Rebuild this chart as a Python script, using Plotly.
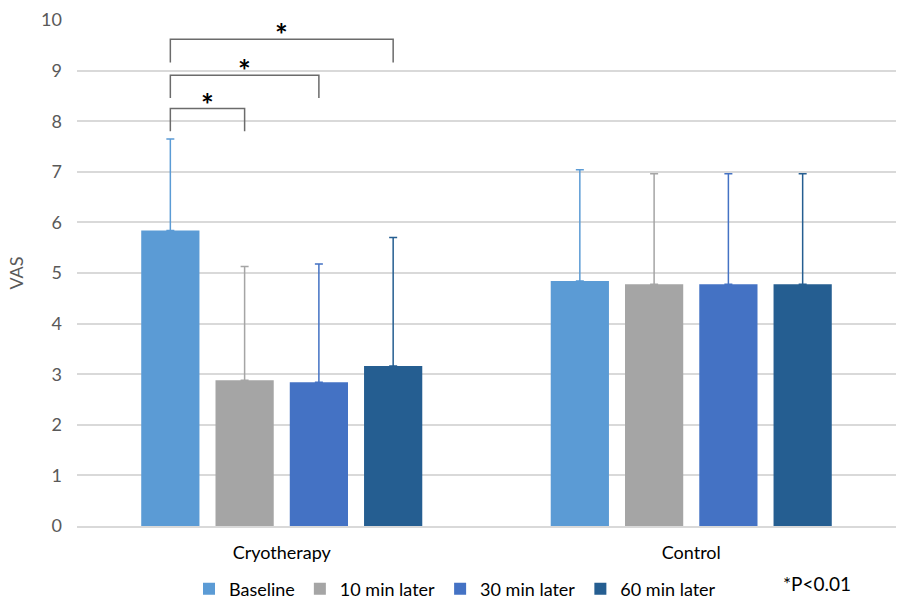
import plotly.graph_objects as go

categories = ["Cryotherapy", "Control"]
series_names = ["Baseline", "10 min later", "30 min later", "60 min later"]
means = {
    "Baseline": [5.84, 4.84],
    "10 min later": [2.88, 4.78],
    "30 min later": [2.84, 4.78],
    "60 min later": [3.16, 4.78],
}
sds = {
    "Baseline": [1.81, 2.20],
    "10 min later": [2.25, 2.18],
    "30 min later": [2.34, 2.18],
    "60 min later": [2.54, 2.18],
}
colors = ["#5B9BD5", "#A5A5A5", "#4472C4", "#255E91"]
y_ticks = list(range(0, 11))
# significance comparisons: (series index a, series index b, horizontal level, leg bottom)
comparisons = [(0, 1, 8.25, 7.80), (0, 2, 8.91, 8.46), (0, 3, 9.62, 9.16)]

FONT = "Lato"
TXT = "#595959"
bargap = 0.2745
bargroupgap = 0.216

fig = go.Figure()
for name, col in zip(series_names, colors):
    fig.add_trace(go.Bar(
        x=categories, y=means[name], name=name,
        marker=dict(color=col, line=dict(width=0)),
        error_y=dict(type="data", symmetric=False, array=sds[name],
                     arrayminus=[0] * len(categories),
                     color=col, thickness=1.5, width=4),
    ))

n = len(series_names)
slot = (1 - bargap) / n
def bar_x(cat_idx, s_idx):
    return cat_idx + (s_idx - (n - 1) / 2) * slot

shapes = []
annotations = []
for a, b, level, bottom in comparisons:
    xa, xb = bar_x(0, a), bar_x(0, b)
    shapes.append(dict(type="path", xref="x", yref="y",
                       path=f"M {xa},{bottom} L {xa},{level} L {xb},{level} L {xb},{bottom}",
                       line=dict(color="#6b6b6b", width=1.5)))
    annotations.append(dict(x=(xa + xb) / 2, y=level, xref="x", yref="y",
                            text="<b>*</b>", showarrow=False, yanchor="bottom",
                            yshift=-15,
                            font=dict(family=FONT, size=30, color="#000000")))

annotations.append(dict(x=(817 - 77) / 819, y=(526 - 583) / 506, xref="paper", yref="paper",
                        text="*P<0.01", showarrow=False, xanchor="center", yanchor="middle",
                        font=dict(family=FONT, size=19, color="#000000")))

fig.update_layout(
    width=898, height=600,
    margin=dict(l=77, r=2, t=20, b=74, autoexpand=False),
    paper_bgcolor="white", plot_bgcolor="white",
    barmode="group", bargap=bargap, bargroupgap=bargroupgap,
    font=dict(family=FONT, size=16, color=TXT),
    shapes=shapes, annotations=annotations,
    legend=dict(orientation="h", xref="container", yref="container",
                x=189 / 898, xanchor="left", y=(600 - 589) / 600, yanchor="middle",
                font=dict(family=FONT, size=18, color="#000000"),
                traceorder="normal"),
    xaxis=dict(showgrid=False, showline=True, linecolor="#d9d9d9", linewidth=1.5,
               ticks="", tickfont=dict(family=FONT, size=18, color="#000000"),
               ticklabelstandoff=10, automargin=False),
    yaxis=dict(range=[0, 10], tickvals=y_ticks, showgrid=True, gridcolor="#d9d9d9",
               gridwidth=1.5, zeroline=False, showline=False, ticks="",
               tickfont=dict(family=FONT, size=18, color=TXT), ticklabelstandoff=14,
               automargin=False,
               title=dict(text="VAS", font=dict(family=FONT, size=18, color=TXT), standoff=12)),
)

fig.write_html("out.html", config={"displayModeBar": False},
               post_script="document.body.style.margin='0';document.body.style.overflow='hidden';")
